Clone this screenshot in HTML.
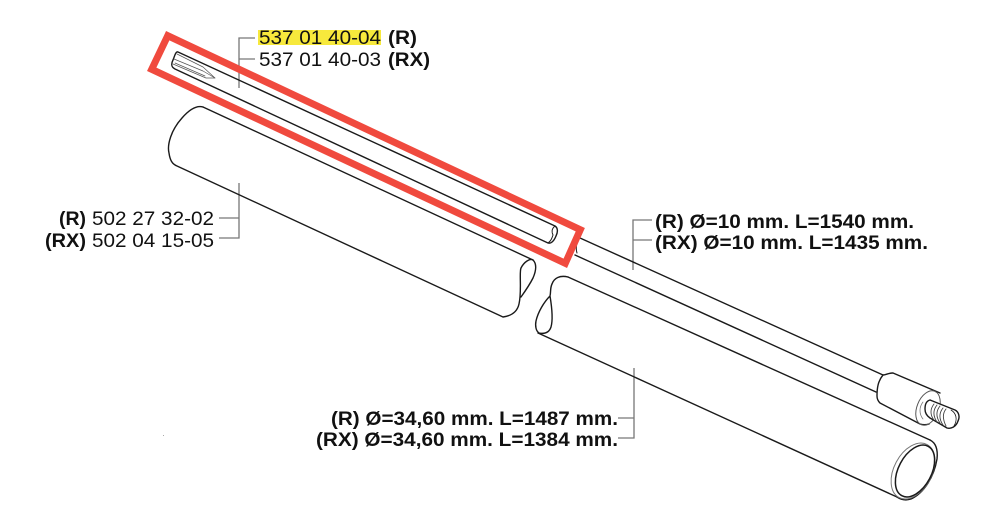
<!DOCTYPE html>
<html><head><meta charset="utf-8"><style>
html,body{margin:0;padding:0;background:#fff}svg{display:block}
text{font-family:"Liberation Sans",sans-serif;font-size:19.5px;fill:#111}
.b{font-weight:bold}
</style></head><body>
<svg width="983" height="517" viewBox="0 0 983 517" xmlns="http://www.w3.org/2000/svg">
<rect x="258" y="30" width="123" height="15" fill="#f7e93c"/>
<g fill="none" stroke="#777" stroke-width="1.3">
<path d="M255 38H239V88M239 59H255"/>
<path d="M239 183V238H219M239 218H219"/>
<path d="M652 220H633V270M633 240H652"/>
<path d="M634 368V438H618M634 418H618"/>
</g>
<g fill="none" stroke="#1a1a1a" stroke-width="1.4" stroke-linejoin="round" stroke-linecap="round">
<!-- rod left -->
<path d="M178 52L555 226C558 228 558 232 556 236C554 241 551 244 548 243L175 69C171 67 171 64 173 60C175 55 176 51 178 52Z"/>
<path d="M555 226C551 229 552 233 553 235C552 238 551 241 548 243" stroke-width="1"/>
<g stroke="#555" stroke-width=".7">
<path d="M174 59L203 71L215 78L206 78L173 64"/>
<path d="M177 54L203 67L215 78M175 63L205 76"/>
</g>
<!-- rod right -->
<path d="M580 238L883 375M575 255L876 392"/>
<path d="M577 243C576 247 576 250 577 253" stroke-width="1"/>
<!-- collar -->
<path d="M883 375C886 375 888 373 893 373L940 393M883 375C878 381 877 388 877 396C877 399 878 401 880 403L920 424C923 425 926 425 929 424"/>
<ellipse cx="928" cy="408" rx="11" ry="18" transform="rotate(22 928 408)" stroke="#555" stroke-width="1"/>
<path d="M923 402C919 407 919 414 923 419" stroke="#777" stroke-width=".8" fill="#fff"/>
<!-- stud -->
<path d="M930 400L955 410C959 412 960 417 958 421C956 427 951 429 947 428L930 418M930 400C926 401 925 405 925 409C925 413 927 416 930 418" fill="#fff"/>
<path d="M934 404C930 409 930 415 934 420M937 405C933 410 933 416 937 422M940 406C936 411 936 417 940 423M943 408C939 413 939 419 943 425M946 409C942 414 943 420 946 426" stroke-width=".9" stroke="#444"/>
<path d="M951 410C956 413 958 419 954 426" stroke-width=".8"/>
<!-- tube 1 -->
<path d="M203 107C196 105 189 110 182 118C171 130 167 145 169 153C170 160 172 164 177 166L503 317C510 316 517 313 519 304C522 291 519 272 521 268C524 262 530 258 533 260C537 264 536 271 533 278C530 284 526 290 521 297"/>
<path d="M203 107L533 260"/>
<!-- tube 2 -->
<path d="M568 277C560 275 554 278 552 284C550 288 551 292 550 296C552 308 553 320 551 327C549 333 544 334 539 333C536 331 535 326 536 321C538 312 544 302 550 296"/>
<path d="M568 277L930 440M538 333L897 497"/>
<!-- tube end -->
<path d="M930 440C936 443 938 450 937 459C934 477 924 493 911 499C905 501 900 499 897 497"/>
<ellipse cx="913" cy="471" rx="19" ry="30" transform="rotate(28 913 471)" stroke="#777" stroke-width="1"/>
<ellipse cx="915" cy="471" rx="16.5" ry="28" transform="rotate(28 915 471)" stroke-width="1.5"/>
</g>
<polygon points="167.7,35.7 151.7,69.3 565.3,263.3 580.3,229.7" fill="none" stroke="#f04a3e" stroke-width="7" stroke-linejoin="miter"/>
<text x="259" y="44" textLength="122" lengthAdjust="spacingAndGlyphs">537 01 40-04</text>
<text x="388" y="44" class="b" textLength="29" lengthAdjust="spacingAndGlyphs">(R)</text>
<text x="259" y="66" textLength="122" lengthAdjust="spacingAndGlyphs">537 01 40-03</text>
<text x="388" y="66" class="b" textLength="42" lengthAdjust="spacingAndGlyphs">(RX)</text>
<text x="59" y="225" class="b" textLength="27" lengthAdjust="spacingAndGlyphs">(R)</text>
<text x="92" y="225" textLength="122" lengthAdjust="spacingAndGlyphs">502 27 32-02</text>
<text x="45" y="247" class="b" textLength="41" lengthAdjust="spacingAndGlyphs">(RX)</text>
<text x="92" y="247" textLength="122" lengthAdjust="spacingAndGlyphs">502 04 15-05</text>
<text x="655" y="228" class="b" textLength="259" lengthAdjust="spacingAndGlyphs">(R) Ø=10 mm. L=1540 mm.</text>
<text x="655" y="249" class="b" textLength="273" lengthAdjust="spacingAndGlyphs">(RX) Ø=10 mm. L=1435 mm.</text>
<text x="331" y="425" class="b" textLength="287" lengthAdjust="spacingAndGlyphs">(R) Ø=34,60 mm. L=1487 mm.</text>
<text x="316" y="446" class="b" textLength="302" lengthAdjust="spacingAndGlyphs">(RX) Ø=34,60 mm. L=1384 mm.</text>
<rect x="163" y="435" width="1" height="1" fill="#aaa"/>
</svg>
</body></html>
